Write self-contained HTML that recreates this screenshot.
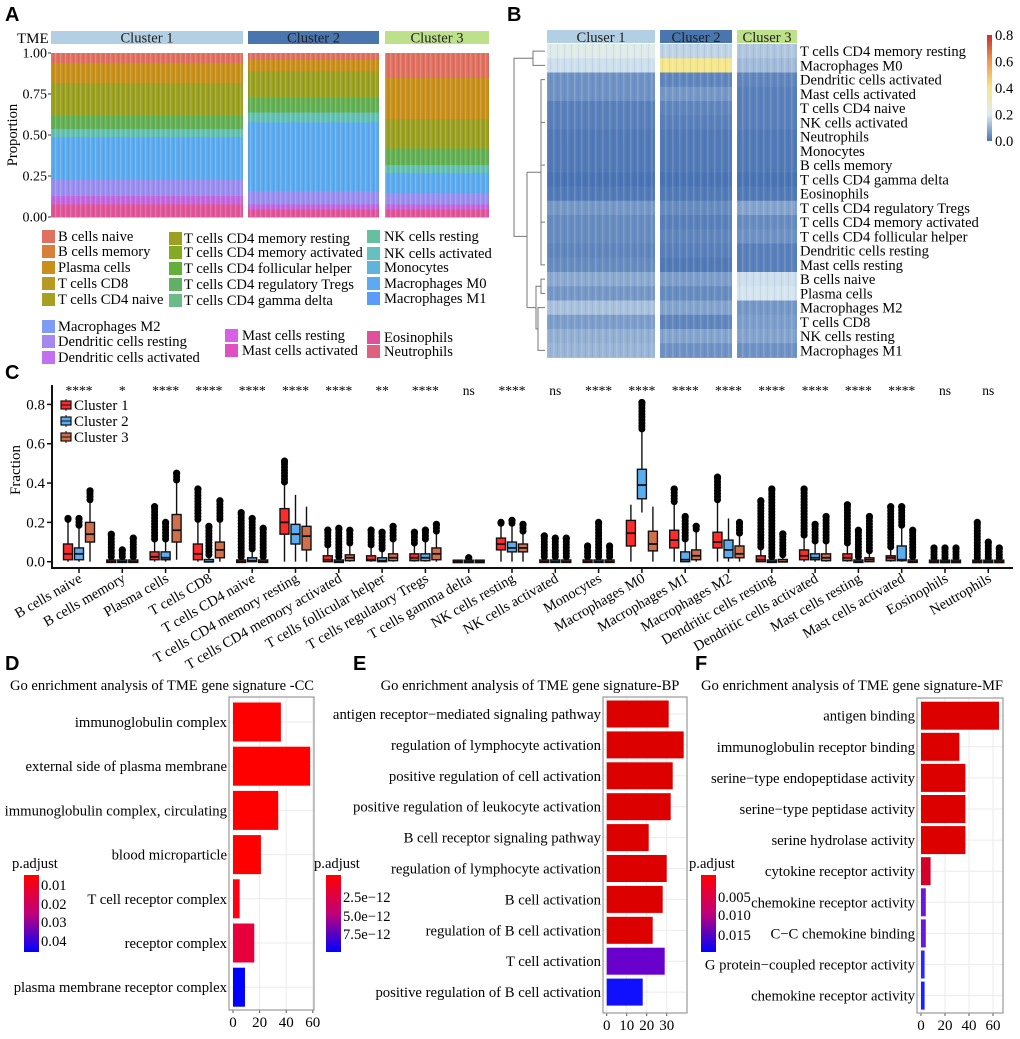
<!DOCTYPE html>
<html><head><meta charset="utf-8">
<style>
html,body{margin:0;padding:0;background:#fff;}
svg{display:block;font-family:"Liberation Serif",serif;}
.lt{font-family:"Liberation Sans",sans-serif;font-weight:bold;font-size:20px;}
</style></head>
<body>
<svg id="fig" width="1020" height="1039" viewBox="0 0 1020 1039" xmlns="http://www.w3.org/2000/svg">
<defs>
<pattern id="stripes" width="5" height="10" patternUnits="userSpaceOnUse">
<rect x="0" y="0" width="1.2" height="10" fill="#ffffff" opacity="0.18"/>
<rect x="3" y="0" width="0.8" height="10" fill="#000000" opacity="0.06"/>
</pattern>
<pattern id="hstripes" width="7" height="10" patternUnits="userSpaceOnUse">
<rect x="0" y="0" width="1.5" height="10" fill="#ffffff" opacity="0.15"/>
<rect x="4" y="0" width="1" height="10" fill="#20307a" opacity="0.08"/>
</pattern>
<linearGradient id="gradB" x1="0" y1="1" x2="0" y2="0">
<stop offset="0" stop-color="#4a74b4"/><stop offset="0.25" stop-color="#dcebf2"/>
<stop offset="0.5" stop-color="#f6e68c"/><stop offset="0.75" stop-color="#ee9a52"/><stop offset="1" stop-color="#c83030"/>
</linearGradient>
<linearGradient id="gradD" x1="0" y1="0" x2="0" y2="1">
<stop offset="0" stop-color="#ff0000"/><stop offset="0.5" stop-color="#c0007a"/><stop offset="1" stop-color="#0000ff"/>
</linearGradient>
</defs>
<text class="lt" x="5" y="21">A</text>
<text class="lt" x="507" y="21">B</text>
<text class="lt" x="5" y="379">C</text>
<text class="lt" x="5" y="670">D</text>
<text class="lt" x="353" y="670">E</text>
<text class="lt" x="695" y="670">F</text>
<g id="gA"></g>
<g id="gB"></g>
<g id="gC"></g>
<g id="gD"></g>
<g id="gE"></g>
<g id="gF"></g>
</svg>
<script>
// ---------- Panel A data ----------
const aClusters = ["Cluster 1","Cluster 2","Cluster 3"];
const aLayerColors = ["#e0559a","#c466e0","#9a8ef0","#5aaaf0","#62c0b2","#62b052","#9aa020","#c8901a","#e07060"];
const aClust1 = [0.08,0.05,0.10,0.26,0.05,0.08,0.20,0.12,0.06];
const aClust2 = [0.05,0.03,0.08,0.42,0.06,0.09,0.16,0.07,0.04];
const aClust3 = [0.05,0.03,0.07,0.12,0.05,0.10,0.18,0.25,0.15];
const aTicks = [0,0.25,0.5,0.75,1.0];
const aTickLabels = ["0.00","0.25","0.50","0.75","1.00"];
const aLegend1 = ["B cells naive","B cells memory","Plasma cells","T cells CD8","T cells CD4 naive"];
const aLegend1c = ["#e07060","#d8803a","#c8901a","#b89a22","#a8a020"];
const aLegend2 = ["T cells CD4 memory resting","T cells CD4 memory activated","T cells CD4 follicular helper","T cells CD4 regulatory Tregs","T cells CD4 gamma delta"];
const aLegend2c = ["#9aa020","#82aa22","#62b03a","#62b066","#6abb88"];
const aLegend3 = ["NK cells resting","NK cells activated","Monocytes","Macrophages M0","Macrophages M1"];
const aLegend3c = ["#66c0a0","#66c0c0","#60b4dc","#5eaaf0","#5a9cf8"];

// ---------- Panel B data ----------
const bRows = ["T cells CD4 memory resting","Macrophages M0","Dendritic cells activated","Mast cells activated","T cells CD4 naive","NK cells activated","Neutrophils","Monocytes","B cells memory","T cells CD4 gamma delta","Eosinophils","T cells CD4 regulatory Tregs","T cells CD4 memory activated","T cells CD4 follicular helper","Dendritic cells resting","Mast cells resting","B cells naive","Plasma cells","Macrophages M2","T cells CD8","NK cells resting","Macrophages M1"];
const bC1 = [0.22,0.18,0.05,0.05,0.02,0.02,0.01,0.01,0.01,0.0,0.01,0.06,0.04,0.04,0.03,0.04,0.09,0.06,0.13,0.07,0.10,0.11];
const bC2 = [0.16,0.40,0.03,0.06,0.03,0.02,0.01,0.01,0.01,0.0,0.01,0.04,0.02,0.03,0.02,0.01,0.07,0.04,0.08,0.03,0.08,0.05];
const bC3 = [0.14,0.12,0.03,0.02,0.02,0.02,0.01,0.01,0.01,0.0,0.01,0.08,0.04,0.05,0.02,0.02,0.18,0.19,0.06,0.07,0.08,0.05];
const bScaleTicks = ["0.0","0.2","0.4","0.6","0.8"];

// ---------- Panel C data ----------
const cCats = ["B cells naive","B cells memory","Plasma cells","T cells CD8","T cells CD4 naive","T cells CD4 memory resting","T cells CD4 memory activated","T cells follicular helper","T cells regulatory  Tregs","T cells gamma delta","NK cells resting","NK cells activated","Monocytes","Macrophages M0","Macrophages M1","Macrophages M2","Dendritic cells resting","Dendritic cells activated","Mast cells resting","Mast cells activated","Eosinophils","Neutrophils"];
const cSig = ["****","*","****","****","****","****","****","**","****","ns","****","ns","****","****","****","****","****","****","****","****","ns","ns"];
// [q1, median, q3, whiskerLow, whiskerHigh, outlierMax]
const cClu1 = [[0.01,0.04,0.09,0,0.2,0.22],[0,0,0.005,0,0.01,0.14],[0.01,0.025,0.05,0,0.1,0.28],[0.01,0.04,0.09,0,0.2,0.37],[0,0,0.005,0,0.01,0.25],[0.14,0.2,0.27,0,0.39,0.51],[0,0.01,0.03,0,0.07,0.16],[0.005,0.01,0.03,0,0.07,0.16],[0.005,0.02,0.04,0,0.08,0.15],[0,0,0.003,0,0.005,0],[0.06,0.09,0.12,0,0.18,0.2],[0,0,0.005,0,0.01,0.13],[0,0,0.005,0,0.01,0.08],[0.08,0.145,0.21,0,0.29,0],[0.07,0.11,0.16,0,0.29,0.37],[0.07,0.1,0.15,0,0.3,0.43],[0,0.01,0.03,0,0.06,0.31],[0.01,0.03,0.06,0,0.12,0.37],[0.005,0.02,0.04,0,0.08,0.29],[0.005,0.02,0.03,0,0.06,0.28],[0,0,0.003,0,0.005,0.07],[0,0,0.003,0,0.005,0.2]];
const cClu2 = [[0.01,0.04,0.07,0,0.17,0.22],[0,0,0.005,0,0.01,0.06],[0.01,0.02,0.05,0,0.1,0.2],[0,0,0.01,0,0.02,0.18],[0,0.005,0.02,0,0.05,0.22],[0.09,0.14,0.19,0,0.34,0],[0,0,0.005,0,0.01,0.17],[0,0.005,0.02,0,0.05,0.15],[0.005,0.02,0.04,0,0.1,0.16],[0,0,0.003,0,0.005,0.02],[0.05,0.07,0.1,0,0.18,0.21],[0,0,0.005,0,0.01,0.12],[0,0,0.005,0,0.01,0.2],[0.32,0.39,0.47,0.25,0.66,0.81],[0,0.01,0.05,0,0.1,0.23],[0.02,0.06,0.11,0,0.22,0],[0,0,0.005,0,0.01,0.37],[0.01,0.02,0.04,0,0.09,0.19],[0,0,0.005,0,0.01,0.16],[0.005,0.01,0.08,0,0.17,0.28],[0,0,0.003,0,0.005,0.07],[0,0,0.003,0,0.005,0.1]];
const cClu3 = [[0.1,0.14,0.2,0,0.3,0.36],[0,0,0.005,0,0.01,0.12],[0.1,0.16,0.24,0.01,0.4,0.45],[0.02,0.06,0.1,0,0.2,0.31],[0,0,0.005,0,0.01,0.17],[0.06,0.13,0.18,0,0.28,0],[0.005,0.02,0.035,0,0.08,0.16],[0.005,0.02,0.04,0,0.1,0.18],[0.01,0.04,0.07,0,0.14,0.19],[0,0,0.003,0,0.005,0],[0.05,0.07,0.09,0,0.14,0.19],[0,0,0.005,0,0.01,0.12],[0,0,0.005,0,0.01,0.08],[0.055,0.09,0.155,0,0.28,0],[0.01,0.03,0.06,0,0.15,0.18],[0.02,0.04,0.08,0,0.13,0.2],[0,0,0.01,0,0.02,0.14],[0.005,0.02,0.04,0,0.09,0.23],[0,0.01,0.02,0,0.04,0.23],[0,0,0.005,0,0.01,0.16],[0,0,0.003,0,0.005,0.07],[0,0,0.003,0,0.005,0.07]];
const cYTicks = [0,0.2,0.4,0.6,0.8];
const cYLabels = ["0.0","0.2","0.4","0.6","0.8"];

// ---------- Panels D/E/F data ----------
const dTerms = ["immunoglobulin complex","external side of plasma membrane","immunoglobulin complex, circulating","blood microparticle","T cell receptor complex","receptor complex","plasma membrane receptor complex"];
const dCounts = [36,58,34,21,5,16,9];
const dColors = ["#ff0000","#ff0000","#ff0000","#ff0000","#ff0010","#e8003c","#0000ff"];
const dTicks = [0,20,40,60];
const eTerms = ["antigen receptor\u2212mediated signaling pathway","regulation of lymphocyte activation","positive regulation of cell activation","positive regulation of leukocyte activation","B cell receptor signaling pathway","regulation of lymphocyte activation","B cell activation","regulation of B cell activation","T cell activation","positive regulation of B cell activation"];
const eCounts = [31,38.5,33,32,21,30,28,23,29,18];
const eColors = ["#dd0000","#dd0000","#dd0000","#dd0000","#dd0000","#dd0000","#dd0000","#dd0000","#6a00cc","#1010ff"];
const eTicks = [0,10,20,30];
const fTerms = ["antigen binding","immunoglobulin receptor binding","serine\u2212type endopeptidase activity","serine\u2212type peptidase activity","serine hydrolase activity","cytokine receptor activity","chemokine receptor activity","C\u2212C chemokine binding","G protein\u2212coupled  receptor activity","chemokine receptor activity"];
const fCounts = [65,32,37,37,37,8,4,4,3,3];
const fColors = ["#dd0000","#dd0000","#dd0000","#dd0000","#dd0000","#d0002a","#6a18e0","#6a18e0","#2a28ff","#1a20ff"];
const fTicks = [0,20,40,60];

const NS = "http://www.w3.org/2000/svg";
function el(tag, attrs, parent, txt){
  const e = document.createElementNS(NS, tag);
  for (const k in attrs) e.setAttribute(k, attrs[k]);
  if (txt !== undefined) e.textContent = txt;
  parent.appendChild(e);
  return e;
}

// ===== Panel A =====
(function(){
  const g = document.getElementById('gA');
  const y0 = 217, h = 164;
  const yA = v => y0 - v*h;
  const xr = [[51,243],[248,379],[385,489]];
  const headCol = ["#b3cfe3","#4a76b0","#bde08a"];
  const data = [aClust1,aClust2,aClust3];
  const t = el('text',{x:17,y:43,'font-size':15},g,'TME');
  
  
  for (let c=0;c<3;c++){
    const [x0,x1] = xr[c];
    const hd = el('rect',{x:x0,y:31,width:x1-x0,height:13,fill:headCol[c]},g);
    
    
    const ht = el('text',{x:(x0+x1)/2,y:42.5,'font-size':14.6,'text-anchor':'middle',fill:'#222'},g,aClusters[c]);
    
    
    let cum = 0;
    data[c].forEach((v,i)=>{
      const r = el('rect',{x:x0,y:yA(cum+v),width:x1-x0,height:v*h+0.5,fill:aLayerColors[i]},g);
      
      
      cum += v;
    });
    const ov = el('rect',{x:x0,y:yA(1),width:x1-x0,height:h,fill:'url(#stripes)'},g);
    
    
  }
  const yl = el('text',{x:17,y:135,'font-size':14.6,'text-anchor':'middle',transform:'rotate(-90 17 135)'},g,'Proportion');
  
  
  aTicks.forEach((v,i)=>{
    const tk = el('text',{x:47,y:yA(v)+4.5,'font-size':14,'text-anchor':'end'},g,aTickLabels[i]);
    
    
    el('line',{x1:48,x2:51,y1:yA(v),y2:yA(v),stroke:'#333'},g);
  });
  function leg(labels, cols, sx, tx, ys){
    labels.forEach((l,i)=>{
      const s = el('rect',{x:sx,y:ys[i]-11,width:13,height:13,fill:cols[i]},g);
      
      
      const tt = el('text',{x:tx,y:ys[i],'font-size':14.6},g,l);
      
      
    });
  }
  leg(aLegend1,aLegend1c,42,58,[241,256,272,288,304]);
  leg(aLegend2,aLegend2c,169,184,[243,257,273,289,305]);
  leg(aLegend3,aLegend3c,367,384,[241,258,272,288,303]);
  leg(["Macrophages M2","Dendritic cells resting","Dendritic cells activated"],["#7e9cf4","#a488f0","#c070f0"],42,58,[331,346,362]);
  leg(["Mast cells resting","Mast cells activated"],["#d860e6","#e050c0"],225,242,[340,355]);
  leg(["Eosinophils","Neutrophils"],["#e0509c","#e06080"],367,384,[342,356]);
})();

// ===== Panel B =====
(function(){
  const g = document.getElementById('gB');
  const stops = [[0,[74,116,180]],[0.2,[220,235,242]],[0.4,[246,230,140]],[0.6,[238,154,82]],[0.8,[200,48,48]]];
  function col(v){
    v = Math.max(0,Math.min(0.8,v));
    for (let i=0;i<stops.length-1;i++){
      const [a,ca]=stops[i],[b,cb]=stops[i+1];
      if (v<=b){const t=(v-a)/(b-a);return 'rgb('+ca.map((x,k)=>Math.round(x+(cb[k]-x)*t)).join(',')+')';}
    }
  }
  const xr = [[547,655],[660,732],[737,797]];
  const names = ["Cluser 1","Cluser 2","Cluser 3"];
  const headCol = ["#b3cfe3","#4a76b0","#bde08a"];
  const data = [bC1,bC2,bC3];
  const top = 44, rh = 14.25;
  for (let c=0;c<3;c++){
    const [x0,x1]=xr[c];
    const hd = el('rect',{x:x0,y:30,width:x1-x0,height:13,fill:headCol[c]},g);
    
    
    const ht = el('text',{x:(x0+x1)/2,y:42,'font-size':14.6,'text-anchor':'middle',fill:'#222'},g,names[c]);
    
    
    data[c].forEach((v,i)=>{
      const r = el('rect',{x:x0,y:top+i*rh,width:x1-x0,height:rh+0.4,fill:col(v)},g);
      
      
    });
    const ov = el('rect',{x:x0,y:top,width:x1-x0,height:rh*22,fill:'url(#hstripes)'},g);
    
    
  }
  bRows.forEach((n,i)=>{
    const t = el('text',{x:800,y:top+i*rh+rh/2+5,'font-size':14.6},g,n);
    
    
  });
  const yr = i => top+i*rh+rh/2;
  const dp = ['M545,'+yr(0)+'H533V'+yr(1)+'H545','M533,'+((yr(0)+yr(1))/2)+'H514V221H514',
    'M545,'+yr(2)+'H541V'+yr(15)+'H545','M541,'+yr(5)+'H545','M541,'+yr(8)+'H545','M541,'+yr(12)+'H545',
    'M541,'+((yr(2)+yr(15))/2)+'H527',
    'M545,'+yr(16)+'H541V'+yr(17)+'H545','M545,'+yr(18)+'H538V'+yr(21)+'H545','M541,'+((yr(16)+yr(17))/2)+'H536V'+((yr(18)+yr(21))/2)+'H538',
    'M536,'+((yr(16)+yr(20))/2)+'H527','M527,'+((yr(2)+yr(15))/2)+'V'+((yr(16)+yr(20))/2),
    'M527,'+((yr(8)+yr(18))/2)+'H514V'+((yr(0)+yr(1))/2)];
  dp.forEach(d=>{
    const p = el('path',{d:d,fill:'none',stroke:'#777','stroke-width':1},g);
    
    
  });
  const cb = el('rect',{x:987,y:35,width:5,height:106,fill:'url(#gradB)'},g);
  
  
  bScaleTicks.forEach((l,i)=>{
    const t = el('text',{x:995,y:141-i*26.5+5,'font-size':14.6},g,l);
    
    
  });
})();

// ===== Panel C =====
(function(){
  const g = document.getElementById('gC');
  const yC = v => 561.7 - v*196.6;
  const xC = i => 79 + i*43.3;
  const cols = ["#ff2a2a","#5aaef0","#d0704a"];
  const offs = [-11,0,11];
  const ax = el('path',{d:'M52,385V568H1013',fill:'none',stroke:'#111','stroke-width':2},g);
  
  
  cYTicks.forEach((v,i)=>{
    el('line',{x1:47,x2:52,y1:yC(v),y2:yC(v),stroke:'#111','stroke-width':1.5},g);
    const t = el('text',{x:45,y:yC(v)+5,'font-size':15,'text-anchor':'end'},g,cYLabels[i]);
    
    
  });
  const yt = el('text',{x:20,y:470,'font-size':15,'text-anchor':'middle',transform:'rotate(-90 20 470)'},g,'Fraction');
  
  
  const all = [cClu1,cClu2,cClu3];
  cCats.forEach((name,i)=>{
    const x = xC(i);
    el('line',{x1:x,x2:x,y1:568,y2:573,stroke:'#111','stroke-width':1.5},g);
    const lb = el('text',{x:x+4,y:581,'font-size':14.5,'text-anchor':'end',transform:'rotate(-30 '+(x+4)+' 581)'},g,name);
    
    
    const sg = el('text',{x:x,y:395,'font-size':13.5,'text-anchor':'middle'},g,cSig[i]);
    
    
    for (let c=0;c<3;c++){
      const [q1,md,q3,wl,wh,om] = all[c][i];
      const bx = x+offs[c];
      const w = el('line',{x1:bx,x2:bx,y1:yC(wl),y2:yC(wh),stroke:'#111','stroke-width':1.4},g);
      
      
      if (om > wh){
        for (let yy=yC(wh)-3; yy>=yC(om)-0.5; yy-=3){
          el('circle',{cx:bx,cy:yy,r:3.5,fill:'#000'},g);
        }
        const o = el('circle',{cx:bx,cy:yC(om),r:3.6,fill:'#000'},g);
        
        
      }
      const bh = Math.max(yC(q1)-yC(q3),2.5);
      const b = el('rect',{x:bx-4.5,y:yC(q3)-(bh-(yC(q1)-yC(q3)))/2,width:9,height:bh,fill:cols[c],stroke:'#111','stroke-width':1.4},g);
      
      
      const m = el('line',{x1:bx-4.5,x2:bx+4.5,y1:yC(md),y2:yC(md),stroke:'#111','stroke-width':1.8},g);
      
      
    }
  });
  ["Cluster 1","Cluster 2","Cluster 3"].forEach((n,c)=>{
    const y = 405+c*16;
    el('line',{x1:66,x2:66,y1:y-6,y2:y+6,stroke:'#111'},g);
    const s = el('rect',{x:61,y:y-4,width:10,height:8,fill:cols[c],stroke:'#111','stroke-width':1.2},g);
    
    
    el('line',{x1:61,x2:71,y1:y,y2:y,stroke:'#111'},g);
    const t = el('text',{x:74,y:y+5,'font-size':15},g,n);
    
    
  });
})();

// ===== GO bar panels =====
function goPanel(gid, cfg, terms, counts, colors, ticks){
  const g = document.getElementById(gid);
  const xv = v => cfg.x0 + v*cfg.k;
  const tt = el('text',{x:cfg.tx,y:cfg.ty,'font-size':14.6,'text-anchor':'middle'},g,cfg.title);
  
  
  ticks.forEach(t=>{
    el('line',{x1:xv(t),x2:xv(t),y1:cfg.top,y2:cfg.bot,stroke:'#ebebeb','stroke-width':1},g);
    const lb = el('text',{x:xv(t),y:cfg.bot+17,'font-size':15,'text-anchor':'middle'},g,String(t));
    
    
    el('line',{x1:xv(t),x2:xv(t),y1:cfg.bot,y2:cfg.bot+3,stroke:'#555'},g);
  });
  terms.forEach((n,i)=>{
    const yc = cfg.c0 + i*cfg.sp;
    el('line',{x1:cfg.left,x2:cfg.right,y1:yc,y2:yc,stroke:'#ebebeb'},g);
    const b = el('rect',{x:xv(0),y:yc-cfg.bh/2,width:counts[i]*cfg.k,height:cfg.bh,fill:colors[i]},g);
    
    
    const l = el('text',{x:cfg.left-2,y:yc+5,'font-size':14.7,'text-anchor':'end'},g,n);
    
    
  });
  const fr = el('rect',{x:cfg.left,y:cfg.top,width:cfg.right-cfg.left,height:cfg.bot-cfg.top,fill:'none',stroke:'#999','stroke-width':1.2},g);
  
  
  const pt = el('text',{x:cfg.lx-12,y:cfg.ly,'font-size':14.6},g,'p.adjust');
  
  
  const gb = el('rect',{x:cfg.lx,y:cfg.ly+7,width:15,height:77,fill:'url(#gradD)'},g);
  
  
  cfg.legLabels.forEach((l,i)=>{
    const t = el('text',{x:cfg.lx+17,y:cfg.legY[i]+5,'font-size':14.6},g,l);
    
    
  });
}
goPanel('gD',{title:'Go enrichment analysis of TME gene signature -CC',tx:162,ty:690,left:229,right:314,top:697,bot:1010,x0:233,k:1.33,c0:722,sp:44.2,bh:39,lx:24,ly:868,legLabels:["0.01","0.02","0.03","0.04"],legY:[885,904,922,941]},dTerms,dCounts,dColors,dTicks);
goPanel('gE',{title:'Go enrichment analysis of TME gene signature-BP',tx:530,ty:690,left:603,right:687,top:697,bot:1013,x0:606.7,k:2.0,c0:714,sp:30.9,bh:27,lx:326,ly:868,legLabels:["2.5e\u221212","5.0e\u221212","7.5e\u221212"],legY:[897,916,934]},eTerms,eCounts,eColors,eTicks);
goPanel('gF',{title:'Go enrichment analysis of TME gene signature-MF',tx:852,ty:690,left:917,right:1003,top:698,bot:1013,x0:921,k:1.2,c0:715.7,sp:31.1,bh:28,lx:701,ly:868,legLabels:["0.005","0.010","0.015"],legY:[897,915,935]},fTerms,fCounts,fColors,fTicks);
</script>
</body></html>
